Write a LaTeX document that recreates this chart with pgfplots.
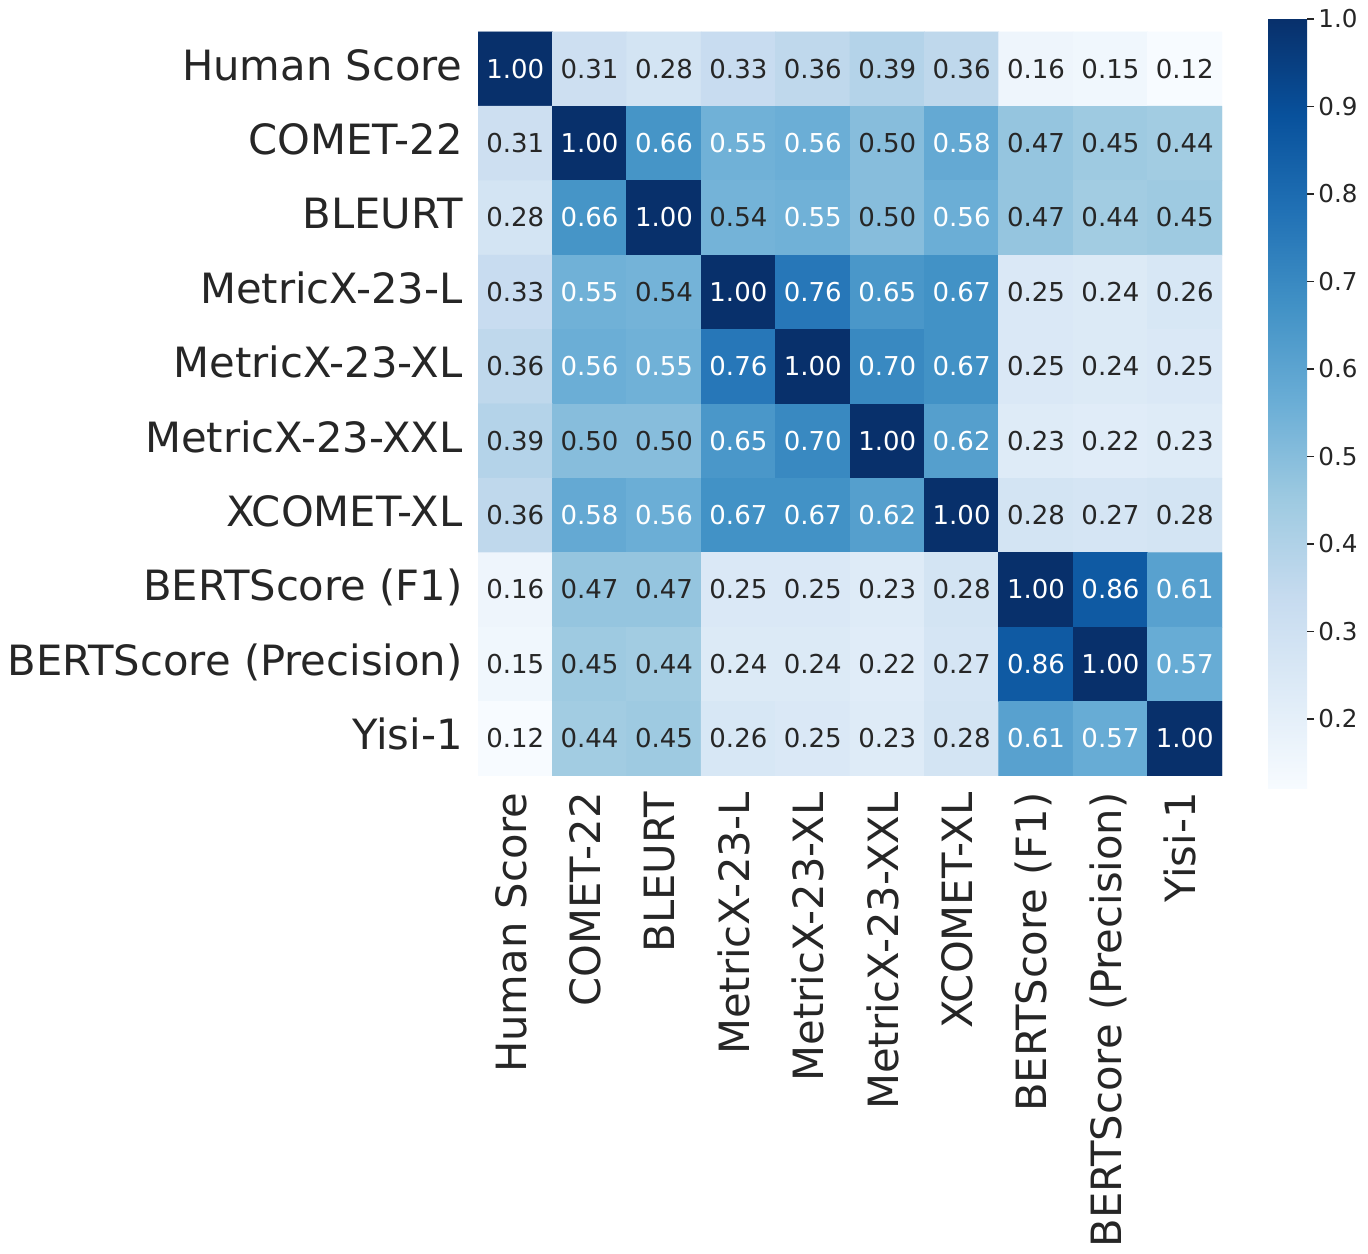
\documentclass[border=0pt]{standalone}
\usepackage{fontspec}
\setmainfont{DejaVu Sans}
\usepackage{pgfplots}
\pgfplotsset{compat=1.18}
\usepackage{pgfplotstable}
\definecolor{txt}{HTML}{262626}
\newcommand{\labf}{\fontsize{20.85bp}{24bp}\selectfont}
\newcommand{\annf}{\fontsize{13bp}{15bp}\selectfont}
\newcommand{\cbf}{\fontsize{12.3bp}{14bp}\selectfont}
\pgfplotsset{/pgf/number format/assume math mode=true}

% long format: x = column, y = 9 - row
\pgfplotstableread{
x y v
0 9 1.00
1 9 0.31
2 9 0.28
3 9 0.33
4 9 0.36
5 9 0.39
6 9 0.36
7 9 0.16
8 9 0.15
9 9 0.12
0 8 0.31
1 8 1.00
2 8 0.66
3 8 0.55
4 8 0.56
5 8 0.50
6 8 0.58
7 8 0.47
8 8 0.45
9 8 0.44
0 7 0.28
1 7 0.66
2 7 1.00
3 7 0.54
4 7 0.55
5 7 0.50
6 7 0.56
7 7 0.47
8 7 0.44
9 7 0.45
0 6 0.33
1 6 0.55
2 6 0.54
3 6 1.00
4 6 0.76
5 6 0.65
6 6 0.67
7 6 0.25
8 6 0.24
9 6 0.26
0 5 0.36
1 5 0.56
2 5 0.55
3 5 0.76
4 5 1.00
5 5 0.70
6 5 0.67
7 5 0.25
8 5 0.24
9 5 0.25
0 4 0.39
1 4 0.50
2 4 0.50
3 4 0.65
4 4 0.70
5 4 1.00
6 4 0.62
7 4 0.23
8 4 0.22
9 4 0.23
0 3 0.36
1 3 0.58
2 3 0.56
3 3 0.67
4 3 0.67
5 3 0.62
6 3 1.00
7 3 0.28
8 3 0.27
9 3 0.28
0 2 0.16
1 2 0.47
2 2 0.47
3 2 0.25
4 2 0.25
5 2 0.23
6 2 0.28
7 2 1.00
8 2 0.86
9 2 0.61
0 1 0.15
1 1 0.45
2 1 0.44
3 1 0.24
4 1 0.24
5 1 0.22
6 1 0.27
7 1 0.86
8 1 1.00
9 1 0.57
0 0 0.12
1 0 0.44
2 0 0.45
3 0 0.26
4 0 0.25
5 0 0.23
6 0 0.28
7 0 0.61
8 0 0.57
9 0 1.00
}\data

\begin{document}
\begin{tikzpicture}
\path[use as bounding box] (0,0) rectangle (684bp,627bp);
\begin{axis}[
  at={(239bp,239bp)}, anchor=south west,
  scale only axis, width=372bp, height=372bp,
  xmin=-0.5, xmax=9.5, ymin=-0.5, ymax=9.5,
  axis line style={draw=none},
  major tick length=0pt,
  xtick={0,...,9}, ytick={0,...,9},
  xticklabels={Human Score, COMET-22, BLEURT, MetricX-23-L, MetricX-23-XL, MetricX-23-XXL, XCOMET-XL, BERTScore (F1), BERTScore (Precision), Yisi-1},
  yticklabels={Yisi-1, BERTScore (Precision), BERTScore (F1), XCOMET-XL, MetricX-23-XXL, MetricX-23-XL, MetricX-23-L, BLEURT, COMET-22, Human Score},
  xticklabel style={rotate=90, anchor=east, inner xsep=8bp, inner ysep=0pt, text height=15.8bp, text depth=4.9bp, font=\labf, text=txt},
  yticklabel style={anchor=east, inner xsep=7.5bp, inner ysep=0pt, text height=15.8bp, text depth=4.9bp, font=\labf, text=txt},
  colormap={blues}{rgb255=(247,251,255) rgb255=(222,235,247) rgb255=(198,219,239) rgb255=(158,202,225) rgb255=(107,174,214) rgb255=(66,146,198) rgb255=(33,113,181) rgb255=(8,81,156) rgb255=(8,48,107)},
  point meta min=0.12, point meta max=1,
  colorbar,
  colorbar/width=19.5bp,
  colorbar style={
    at={(parent axis.north east)}, anchor=north west,
    xshift=14.5bp, yshift=6.5bp,
    scale only axis, width=19.5bp, height=385bp,
    ytick={0.2,0.3,0.4,0.5,0.6,0.7,0.8,0.9,1.0},
    axis line style={draw=none},
    tick align=outside, ytick pos=right, yticklabel pos=right,
    major tick length=3.5bp,
    tick style={color=txt, line width=0.6bp},
    yticklabel style={font=\cbf, text=txt, inner xsep=2bp, inner ysep=0pt, anchor=west,
      /pgf/number format/.cd, fixed, fixed zerofill, precision=1},
  },
]
\addplot[matrix plot*, mesh/cols=10, point meta=explicit] table[x=x, y=y, meta=v] {\data};
\addplot[draw=none, mark=none, point meta=explicit,
  restrict expr to domain={\thisrow{v}}{0.545:2},
  nodes near coords={\pgfmathprintnumber[fixed,fixed zerofill,precision=2]{\pgfplotspointmeta}},
  nodes near coords align=center,
  every node near coord/.append style={font=\annf, anchor=center, inner sep=0pt, text height=9.9bp, text depth=1.0bp, text=white}]
  table[x=x, y=y, meta=v] {\data};
\addplot[draw=none, mark=none, point meta=explicit,
  restrict expr to domain={\thisrow{v}}{0:0.545},
  nodes near coords={\pgfmathprintnumber[fixed,fixed zerofill,precision=2]{\pgfplotspointmeta}},
  nodes near coords align=center,
  every node near coord/.append style={font=\annf, anchor=center, inner sep=0pt, text height=9.9bp, text depth=1.0bp, text=txt}]
  table[x=x, y=y, meta=v] {\data};
\end{axis}
\end{tikzpicture}
\end{document}
